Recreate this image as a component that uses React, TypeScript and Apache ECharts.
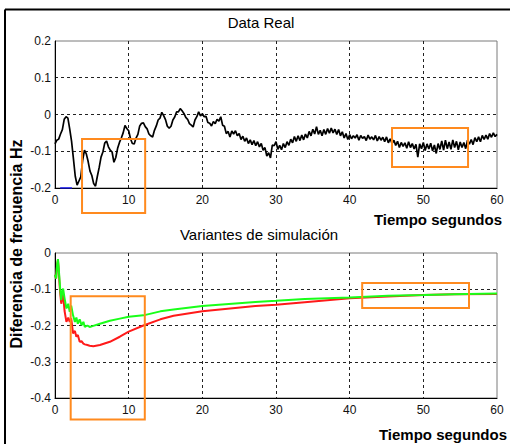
import React, { useEffect, useRef } from "react";
import * as echarts from "echarts";

// ---------- DATA ----------
const xTicks = { min: 0, max: 60, interval: 10 };
const topY = { min: -0.2, max: 0.2, interval: 0.1 };
const bottomY = { min: -0.4, max: 0, interval: 0.1 };

// "Data Real" signal, sampled every 0.25 s from t = 0
const REAL_T0 = 0;
const REAL_STEP = 0.25;
const realValues = [
  -0.080, -0.070, -0.067, -0.053, -0.041, -0.013, -0.006, -0.010, -0.040, -0.073, -0.120, -0.168, -0.192, -0.181, -0.170, -0.125,
  -0.097, -0.107, -0.128, -0.154, -0.166, -0.188, -0.195, -0.168, -0.144, -0.116, -0.102, -0.078, -0.072, -0.088, -0.097, -0.102,
  -0.130, -0.117, -0.092, -0.076, -0.064, -0.050, -0.030, -0.038, -0.044, -0.066, -0.079, -0.080, -0.064, -0.054, -0.031, -0.024,
  -0.023, -0.033, -0.039, -0.053, -0.058, -0.061, -0.043, -0.031, -0.015, -0.010, 0.006, -0.003, -0.014, -0.032, -0.037, -0.032,
  -0.015, -0.007, 0.007, 0.007, 0.016, 0.010, 0.003, -0.008, -0.013, -0.025, -0.029, -0.034, -0.015, -0.006, 0.007, -0.004,
  0.002, -0.006, -0.005, -0.022, -0.024, -0.031, -0.019, -0.025, -0.013, -0.018, -0.006, -0.029, -0.032, -0.052, -0.046, -0.061,
  -0.045, -0.053, -0.044, -0.058, -0.052, -0.068, -0.059, -0.073, -0.064, -0.079, -0.069, -0.082, -0.071, -0.085, -0.074, -0.088,
  -0.079, -0.097, -0.090, -0.113, -0.104, -0.118, -0.083, -0.085, -0.074, -0.095, -0.084, -0.096, -0.079, -0.090, -0.074, -0.084,
  -0.067, -0.077, -0.060, -0.073, -0.058, -0.071, -0.056, -0.069, -0.053, -0.064, -0.046, -0.058, -0.040, -0.053, -0.033, -0.054,
  -0.043, -0.058, -0.041, -0.054, -0.038, -0.051, -0.037, -0.050, -0.040, -0.054, -0.041, -0.058, -0.047, -0.064, -0.052, -0.068,
  -0.055, -0.066, -0.058, -0.064, -0.055, -0.070, -0.057, -0.065, -0.060, -0.071, -0.056, -0.067, -0.061, -0.069, -0.057, -0.072,
  -0.060, -0.070, -0.062, -0.074, -0.061, -0.077, -0.066, -0.079, -0.070, -0.084, -0.073, -0.090, -0.076, -0.087, -0.077, -0.092,
  -0.074, -0.090, -0.079, -0.094, -0.081, -0.116, -0.080, -0.093, -0.076, -0.098, -0.080, -0.094, -0.078, -0.099, -0.083, -0.106,
  -0.079, -0.095, -0.072, -0.097, -0.070, -0.093, -0.075, -0.095, -0.069, -0.090, -0.073, -0.096, -0.075, -0.090, -0.076, -0.093,
  -0.070, -0.081, -0.068, -0.082, -0.063, -0.074, -0.061, -0.074, -0.057, -0.068, -0.056, -0.067, -0.052, -0.062, -0.050, -0.060,
  -0.054,
];
// short blue segment at the bottom-left of the upper plot
const blueSegment = [
  [0.7, -0.2],
  [2.3, -0.2],
];

// "Variantes de simulación"
const simTime = [
  0, 0.15, 0.3, 0.4, 0.5, 0.6, 0.7, 0.85, 1.0, 1.1, 1.3, 1.55, 1.8, 2.0, 2.2, 2.45, 2.7, 2.9, 3.1, 3.35, 3.6,
  3.85, 4.05, 4.4, 4.7, 5.2, 6.1, 7.45, 8.8, 10, 12, 14.3, 16.1, 20, 27.2, 30, 33.9, 40, 45.2, 50, 54.2, 60,
];
const simGreen = [
  -0.06, -0.07, -0.03, -0.017, -0.04, -0.07, -0.098, -0.13, -0.105, -0.098, -0.125, -0.153, -0.14, -0.162, -0.145,
  -0.172, -0.19, -0.178, -0.195, -0.183, -0.199, -0.19, -0.204, -0.2, -0.204, -0.201, -0.195, -0.187, -0.181, -0.176,
  -0.172, -0.161, -0.156, -0.146, -0.135, -0.132, -0.127, -0.123, -0.118, -0.116, -0.114, -0.112,
];
const simRed = [
  -0.06, -0.07, -0.03, -0.02, -0.045, -0.08, -0.11, -0.14, -0.12, -0.115, -0.16, -0.19, -0.178, -0.19, -0.18,
  -0.222, -0.215, -0.231, -0.226, -0.245, -0.243, -0.25, -0.252, -0.254, -0.256, -0.257, -0.254, -0.245, -0.231,
  -0.217, -0.2, -0.183, -0.173, -0.161, -0.146, -0.143, -0.136, -0.125, -0.12, -0.116, -0.114, -0.113,
];

// orange highlight boxes in data units: [x0, y0, x1, y1]
const topBoxes = [
  [3.67, -0.067, 12.24, -0.268],
  [45.75, -0.037, 56.07, -0.143],
];
const bottomBoxes = [
  [2.13, -0.119, 12.19, -0.459],
  [41.7, -0.083, 56.2, -0.152],
];

const titles = ["Data Real", "Variantes de simulación"];
const xName = "Tiempo segundos";
const yName = "Diferencia de frecuencia Hz";

// ---------- STYLE ----------
const FONT = "'Liberation Sans', Arial, sans-serif";
const ORANGE = "#FF8A1E";

function makeXAxis(gridIndex: number) {
  return {
    type: "value",
    gridIndex,
    min: xTicks.min,
    max: xTicks.max,
    interval: xTicks.interval,
    axisLine: { show: true, onZero: false, lineStyle: { color: "#000", width: 1 } },
    axisTick: { show: false },
    axisLabel: { color: "#111", fontSize: 12, fontFamily: FONT, margin: 6 },
    splitLine: {
      show: true,
      showMinLine: false,
      showMaxLine: false,
      lineStyle: { color: "#222", width: 1, type: [3, 3] },
    },
  };
}

function makeYAxis(gridIndex: number, r: { min: number; max: number; interval: number }) {
  return {
    type: "value",
    gridIndex,
    min: r.min,
    max: r.max,
    interval: r.interval,
    axisLine: { show: true, onZero: false, lineStyle: { color: "#000", width: 1 } },
    axisTick: { show: false },
    axisLabel: {
      color: "#111",
      fontSize: 12,
      fontFamily: FONT,
      margin: 4,
      formatter: (v: number) => String(Math.round(v * 10) / 10),
    },
    splitLine: {
      show: true,
      showMinLine: false,
      showMaxLine: false,
      lineStyle: { color: "#222", width: 1, type: [3, 3] },
    },
  };
}

export default function App() {
  const ref = useRef<HTMLDivElement>(null);

  useEffect(() => {
    if (!ref.current) return;
    const chart = echarts.init(ref.current, null, { renderer: "svg" });

    const realData = realValues.map((v, i) => [REAL_T0 + i * REAL_STEP, v]);
    const greenData = simTime.map((t, i) => [t, simGreen[i]]);
    const redData = simTime.map((t, i) => [t, simRed[i]]);

    chart.setOption({
      animation: false,
      backgroundColor: "#fff",
      textStyle: { fontFamily: FONT },
      grid: [
        { left: 55, top: 41, width: 442, height: 147, show: true, borderColor: "#7a7a7a", borderWidth: 1, backgroundColor: "transparent" },
        { left: 55, top: 253, width: 442, height: 145, show: true, borderColor: "#7a7a7a", borderWidth: 1, backgroundColor: "transparent" },
      ],
      xAxis: [makeXAxis(0), makeXAxis(1)],
      yAxis: [makeYAxis(0, topY), makeYAxis(1, bottomY)],
      series: [
        {
          type: "line",
          xAxisIndex: 0,
          yAxisIndex: 0,
          data: realData,
          symbol: "none",
          lineStyle: { color: "#000", width: 1.7 },
          z: 3,
        },
        {
          type: "line",
          xAxisIndex: 0,
          yAxisIndex: 0,
          data: blueSegment,
          symbol: "none",
          lineStyle: { color: "#1a1aff", width: 1.5 },
          z: 4,
        },
        {
          type: "line",
          xAxisIndex: 1,
          yAxisIndex: 1,
          data: redData,
          symbol: "none",
          lineStyle: { color: "#ff1a1a", width: 2 },
          z: 3,
        },
        {
          type: "line",
          xAxisIndex: 1,
          yAxisIndex: 1,
          data: greenData,
          symbol: "none",
          lineStyle: { color: "#19ff19", width: 2 },
          z: 4,
        },
      ],
    });

    const boxRects: any[] = [];
    const addBoxes = (boxes: number[][], gridIndex: number) => {
      boxes.forEach((b) => {
        const p0 = chart.convertToPixel({ gridIndex } as any, [b[0], b[1]]) as number[];
        const p1 = chart.convertToPixel({ gridIndex } as any, [b[2], b[3]]) as number[];
        boxRects.push({
          type: "rect",
          z: 100,
          shape: {
            x: Math.min(p0[0], p1[0]),
            y: Math.min(p0[1], p1[1]),
            width: Math.abs(p1[0] - p0[0]),
            height: Math.abs(p1[1] - p0[1]),
          },
          style: { fill: "none", stroke: ORANGE, lineWidth: 2 },
        });
      });
    };
    addBoxes(topBoxes, 0);
    addBoxes(bottomBoxes, 1);

    chart.setOption({
      graphic: [
        { type: "line", z: 90, shape: { x1: 5, y1: 9.5, x2: 510, y2: 9.5 }, style: { stroke: "#000", lineWidth: 2 } },
        { type: "line", z: 90, shape: { x1: 5, y1: 9.5, x2: 5, y2: 444 }, style: { stroke: "#000", lineWidth: 2 } },
        {
          type: "text", x: 261, y: 22, z: 90,
          style: { text: titles[0], font: `15px ${FONT}`, fill: "#000", align: "center", verticalAlign: "middle" },
        },
        {
          type: "text", x: 259, y: 234, z: 90,
          style: { text: titles[1], font: `15px ${FONT}`, fill: "#000", align: "center", verticalAlign: "middle" },
        },
        {
          type: "text", x: 502, y: 219, z: 90,
          style: { text: xName, font: `bold 15px ${FONT}`, fill: "#000", align: "right", verticalAlign: "middle" },
        },
        {
          type: "text", x: 507, y: 434, z: 90,
          style: { text: xName, font: `bold 15px ${FONT}`, fill: "#000", align: "right", verticalAlign: "middle" },
        },
        {
          type: "text", x: 16.5, y: 244, rotation: Math.PI / 2, z: 90,
          style: { text: yName, font: `bold 16px ${FONT}`, fill: "#000", align: "center", verticalAlign: "middle" },
        },
        ...boxRects,
      ],
    });

    return () => chart.dispose();
  }, []);

  return (
    <div
      ref={ref}
      style={{ position: "fixed", left: 0, top: 0, width: 510, height: 444, background: "#fff" }}
    />
  );
}
